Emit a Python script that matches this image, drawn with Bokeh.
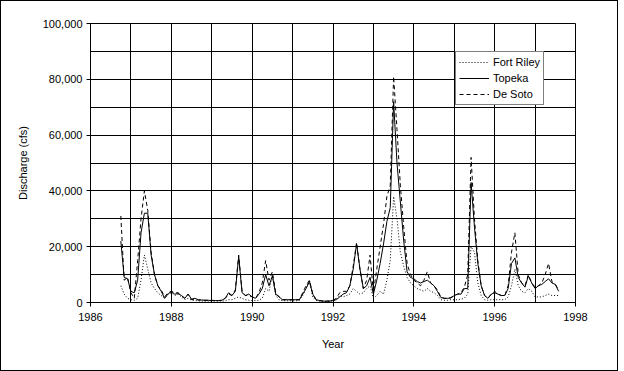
from bokeh.plotting import figure
from bokeh.models import FixedTicker, NumeralTickFormatter, Legend, LegendItem, ColumnDataSource
from bokeh.embed import file_html
from bokeh.resources import INLINE

# Monthly discharge (cfs), first record Oct 1986, last Aug 1997
start_year = 1986
start_month = 10

fort_riley = [
    6000, 3000, 1500,
    1000, 800, 1500, 8000, 17000, 12000, 7000, 5000, 3500, 2500, 1500, 3000,
    3500, 2500, 3000, 2000, 1000, 1500, 800, 700, 600, 500, 500, 500,
    500, 500, 500, 500, 600, 1000, 1000, 1500, 2000, 1500, 1000, 800,
    700, 700, 800, 1500, 5000, 4000, 10000, 2500, 1000, 700, 600, 600,
    600, 600, 700, 2500, 5000, 8000, 2000, 700, 500, 400, 400, 400,
    500, 1200, 2500, 2000, 2500, 3000, 5000, 4000, 3000, 3500, 5000, 6000,
    1500, 2500, 4000, 3000, 8000, 15000, 38000, 30000, 18000, 13000, 9000, 7000,
    6000, 5000, 4500, 4000, 5000, 4000, 3500, 2500, 1000, 800, 800, 1000,
    1000, 1000, 1200, 1500, 3000, 20000, 18000, 7000, 2500, 1000, 800, 1000,
    1000, 1000, 1000, 1000, 2000, 6000, 12000, 6000, 4000, 3500, 5000, 4000,
    2000, 2000, 2000, 2500, 3000, 2500, 2500, 2500,
]

topeka = [
    22000, 9000, 8500,
    4000, 3500, 8000, 25000, 32000, 32000, 17000, 10000, 6000, 4000, 1500, 3000,
    4000, 3000, 3200, 2500, 1500, 3000, 1200, 1500, 1000, 900, 800, 800,
    700, 700, 700, 800, 1500, 3500, 2500, 4000, 16500, 3500, 2500, 3000,
    2000, 1500, 3000, 5000, 10000, 6000, 9500, 3000, 2000, 1000, 1000, 1000,
    1000, 1000, 1000, 3000, 5000, 7500, 3000, 1000, 700, 500, 500, 500,
    800, 1000, 2000, 3000, 3500, 6000, 12000, 21000, 12000, 5000, 6000, 9000,
    3000, 8000, 14000, 21000, 29000, 34000, 72000, 50000, 36000, 22000, 11000, 9000,
    8500, 7500, 7000, 7500, 8000, 7000, 6000, 4000, 1800, 1500, 1500, 1600,
    2500, 3000, 3000, 5000, 5000, 43000, 27000, 14000, 6000, 2500, 1500, 3000,
    3500, 3000, 2500, 2500, 5000, 14000, 16000, 9000, 7000, 5500, 9500, 7000,
    5000, 6000, 6500, 7500, 8500, 7000, 6500, 4000,
]

de_soto = [
    31000, 8000, 9000,
    3500, 1500, 15000, 30000, 40000, 33000, 18000, 10000, 6000, 4500, 2000, 3500,
    4000, 3500, 3500, 2500, 1500, 3000, 1000, 1200, 900, 800, 800, 800,
    800, 700, 700, 800, 1500, 3000, 2500, 4500, 17000, 4000, 2500, 2500,
    2000, 1500, 3500, 7000, 15000, 8000, 11000, 3500, 2000, 1000, 1000, 1000,
    1000, 1000, 1000, 3500, 6000, 8000, 3000, 1000, 700, 500, 500, 500,
    800, 1500, 3500, 4000, 4000, 6000, 13000, 21500, 12000, 5000, 8000, 17000,
    3500, 12000, 20000, 28000, 38000, 42000, 81000, 62000, 42000, 27000, 14000, 10000,
    8000, 7000, 6000, 8000, 11000, 7000, 6000, 4500, 2000, 1500, 1500, 1800,
    2500, 3000, 3500, 5500, 10000, 52000, 30000, 15000, 6000, 2500, 1500, 3000,
    4000, 3000, 2500, 2500, 6000, 18000, 25000, 10000, 7000, 6000, 10000, 7000,
    5500, 6000, 7000, 10000, 14000, 7500, 6500, 4500,
]

x_ticks = [1986, 1988, 1990, 1992, 1994, 1996, 1998]
x_minor = [1987, 1989, 1991, 1993, 1995, 1997]
y_ticks = [0, 20000, 40000, 60000, 80000, 100000]
y_minor = [10000, 30000, 50000, 70000, 90000]

# time axis in decimal years (first of each month)
years = []
y_, m_ = start_year, start_month
for _ in range(len(topeka)):
    years.append(y_ + (m_ - 1) / 12.0)
    m_ += 1
    if m_ > 12:
        m_ = 1
        y_ += 1

src = ColumnDataSource(dict(t=years, fr=fort_riley, tp=topeka, ds=de_soto))

FONT = "Liberation Sans"

p = figure(width=618, height=371, x_range=(1986, 1998), y_range=(0, 100000),
           output_backend="svg", toolbar_location=None,
           min_border_left=89, min_border_right=44, min_border_top=22, min_border_bottom=70)
p.styles = {"border": "1px solid black"}

p.outline_line_color = "black"
p.outline_line_width = 1
p.background_fill_color = "white"
p.border_fill_color = "white"

l_fr = p.line("t", "fr", source=src, line_color="black", line_width=1, line_dash="1 2")
l_tp = p.line("t", "tp", source=src, line_color="black", line_width=1)
l_ds = p.line("t", "ds", source=src, line_color="black", line_width=1, line_dash="4 3")

p.xaxis.ticker = FixedTicker(ticks=x_ticks, minor_ticks=x_minor)
p.yaxis.ticker = FixedTicker(ticks=y_ticks, minor_ticks=y_minor)
p.yaxis.formatter = NumeralTickFormatter(format="0,0")

for g in (p.xgrid, p.ygrid):
    g.grid_line_color = "black"
    g.grid_line_alpha = 1
    g.minor_grid_line_color = "black"
    g.minor_grid_line_alpha = 1

for ax in (p.xaxis, p.yaxis):
    ax.axis_line_color = "black"
    ax.major_tick_line_color = "black"
    ax.major_tick_out = 4
    ax.major_tick_in = 0
    ax.minor_tick_out = 0
    ax.minor_tick_in = 0
    ax.major_label_text_font = FONT
    ax.major_label_text_font_size = "11px"
    ax.major_label_text_color = "black"
    ax.axis_label_text_font = FONT
    ax.axis_label_text_font_size = "11px"
    ax.axis_label_text_font_style = "normal"
    ax.axis_label_text_color = "black"

p.xaxis.axis_label = "Year"
p.yaxis.axis_label = "Discharge (cfs)"
p.xaxis.major_label_standoff = 6
p.yaxis.major_label_standoff = 4
p.xaxis.axis_label_standoff = 14
p.yaxis.axis_label_standoff = 11

legend = Legend(items=[LegendItem(label="Fort Riley", renderers=[l_fr]),
                       LegendItem(label="Topeka", renderers=[l_tp]),
                       LegendItem(label="De Soto", renderers=[l_ds])],
                location=(365, 197))
legend.border_line_color = "black"
legend.border_line_width = 1
legend.background_fill_color = "white"
legend.background_fill_alpha = 1
legend.label_text_font = FONT
legend.label_text_font_size = "11px"
legend.label_text_color = "black"
legend.glyph_width = 30
legend.glyph_height = 14
legend.label_height = 14
legend.spacing = 2
legend.padding = 3
legend.margin = 0
legend.label_standoff = 4
p.add_layout(legend, "center")

open("out.html", "w").write(file_html(p, INLINE))
